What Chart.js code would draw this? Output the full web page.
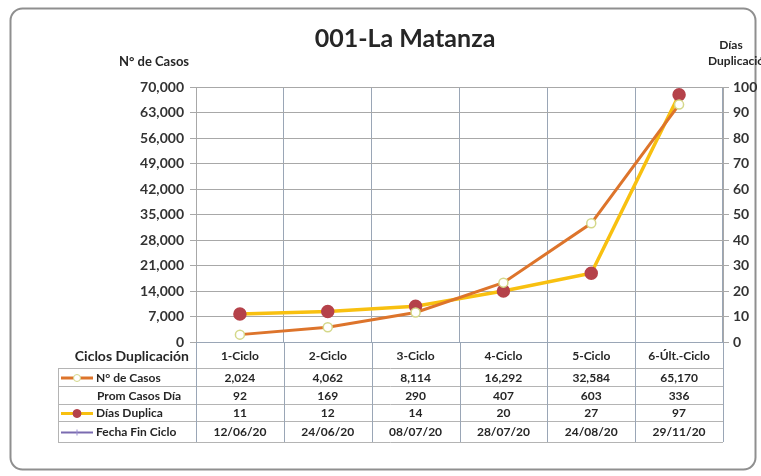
<!DOCTYPE html>
<html>
<head>
<meta charset="utf-8">
<script src="https://cdn.jsdelivr.net/npm/chart.js@4.4.1/dist/chart.umd.min.js"></script>
<style>
  body { margin: 0; background: #fff; }
  #wrap { width: 761px; height: 476px; position: relative; }
</style>
</head>
<body>
<div id="wrap"><canvas id="matanzaChart"></canvas></div>
<script>
// datos del grafico
const ciclos = ['1-Ciclo', '2-Ciclo', '3-Ciclo', '4-Ciclo', '5-Ciclo', '6-Últ.-Ciclo'];
const casos = [2024, 4062, 8114, 16292, 32584, 65170];
const promCasosDia = [92, 169, 290, 407, 603, 336];
const diasDuplica = [11, 12, 14, 20, 27, 97];
const fechaFinCiclo = ['12/06/20', '24/06/20', '08/07/20', '28/07/20', '24/08/20', '29/11/20'];

const FONT = 'Lato, "Open Sans", sans-serif';
const TXT = '#262626';

// dibuja marco, titulos y la tabla de datos debajo del grafico
const tablaPlugin = {
  id: 'tabla',
  beforeDraw(chart) {
    const ctx = chart.ctx;
    ctx.save();
    ctx.fillStyle = '#fff';
    ctx.fillRect(0, 0, chart.width, chart.height);
    ctx.beginPath();
    ctx.roundRect(10.5, 8.5, 745, 461, 12);
    ctx.strokeStyle = '#8f8f8f';
    ctx.lineWidth = 2;
    ctx.stroke();
    ctx.restore();
  },
  afterDraw(chart) {
    const ctx = chart.ctx;
    const area = chart.chartArea;
    const x = chart.scales.x;
    ctx.save();

    // titulos
    ctx.fillStyle = TXT;
    ctx.textAlign = 'center';
    ctx.textBaseline = 'middle';
    ctx.font = 'bold 25px ' + FONT;
    ctx.fillText('001-La Matanza', 405, 39);
    ctx.font = 'bold 13px ' + FONT;
    ctx.fillText('N° de Casos', 154, 62);
    ctx.font = 'bold 12px ' + FONT;
    ctx.fillText('Días', 731, 45);
    ctx.textAlign = 'left';
    ctx.fillText('Duplicación', 708, 61);

    // lineas de la tabla
    const rows = [area.bottom, 368, 386, 404, 421, 442];
    const left = 58;
    ctx.strokeStyle = '#b4b4b4';
    ctx.lineWidth = 1;
    for (let i = 1; i < rows.length; i++) {
      ctx.beginPath();
      ctx.moveTo(left, rows[i] + 0.5);
      ctx.lineTo(area.right, rows[i] + 0.5);
      ctx.stroke();
    }
    ctx.beginPath();
    ctx.moveTo(left + 0.5, rows[1]);
    ctx.lineTo(left + 0.5, rows[5]);
    ctx.stroke();
    ctx.strokeStyle = '#9aa6b6';
    const step = (area.right - area.left) / ciclos.length;
    for (let i = 0; i <= ciclos.length; i++) {
      const gx = Math.round(area.left + step * i) + 0.5;
      ctx.beginPath();
      ctx.moveTo(gx, area.bottom);
      ctx.lineTo(gx, rows[5]);
      ctx.stroke();
    }

    // textos de la tabla
    const mid = (a, b) => (rows[a] + rows[b]) / 2 + 1;
    ctx.fillStyle = TXT;
    ctx.textBaseline = 'middle';
    ctx.font = 'bold 14px ' + FONT;
    ctx.textAlign = 'right';
    ctx.fillText('Ciclos Duplicación', 189, 356);
    ctx.font = 'bold 12px ' + FONT;
    ctx.textAlign = 'left';
    ctx.fillText('N° de Casos', 96, mid(1, 2));
    ctx.fillText('Prom Casos Día', 97, mid(2, 3));
    ctx.fillText('Días Duplica', 96, mid(3, 4));
    ctx.fillText('Fecha Fin Ciclo', 96, mid(4, 5));

    ctx.textAlign = 'center';
    ciclos.forEach((c, i) => {
      const cx = x.getPixelForValue(i);
      ctx.fillText(c, cx, 356);
      ctx.fillText(casos[i].toLocaleString('en-US'), cx, mid(1, 2));
      ctx.fillText(String(promCasosDia[i]), cx, mid(2, 3));
      ctx.fillText(String(diasDuplica[i]), cx, mid(3, 4));
      ctx.fillText(fechaFinCiclo[i], cx, mid(4, 5));
    });

    // simbolos de leyenda
    const leyenda = (y, color, width, dot, dotBorder, r) => {
      ctx.strokeStyle = color;
      ctx.lineWidth = width;
      ctx.beginPath();
      ctx.moveTo(61, y);
      ctx.lineTo(93, y);
      ctx.stroke();
      if (dot) {
        ctx.beginPath();
        ctx.arc(77, y, r, 0, Math.PI * 2);
        ctx.fillStyle = dot;
        ctx.fill();
        ctx.strokeStyle = dotBorder;
        ctx.lineWidth = 1;
        ctx.stroke();
      }
    };
    leyenda(mid(1, 2), '#dd742b', 3, '#fff', '#d4d88a', 3.5);
    leyenda(mid(3, 4), '#f8c010', 3, '#b5424a', '#b5424a', 4);
    leyenda(mid(4, 5), '#7a6bb0', 2, null);
    ctx.strokeStyle = '#9a8ed0';
    ctx.lineWidth = 1;
    ctx.beginPath();
    ctx.moveTo(77, mid(4, 5) - 3);
    ctx.lineTo(77, mid(4, 5) + 3);
    ctx.stroke();

    ctx.restore();
  }
};

new Chart(document.getElementById('matanzaChart'), {
  type: 'line',
  data: {
    labels: ciclos,
    datasets: [
      {
        label: 'N° de Casos',
        data: casos,
        yAxisID: 'y',
        borderColor: '#dd742b',
        borderWidth: 3,
        pointBackgroundColor: '#fff',
        pointBorderColor: '#d4d88a',
        pointBorderWidth: 1.5,
        pointRadius: 4.5,
        tension: 0,
        order: 1
      },
      {
        label: 'Días Duplica',
        data: diasDuplica,
        yAxisID: 'y1',
        borderColor: '#f8c010',
        borderWidth: 3.5,
        pointBackgroundColor: '#b5424a',
        pointBorderColor: '#b5424a',
        pointRadius: 5,
        tension: 0,
        order: 2
      }
    ]
  },
  options: {
    responsive: true,
    maintainAspectRatio: false,
    animation: false,
    layout: { padding: { top: 87, bottom: 134, left: 0, right: 0 } },
    plugins: {
      legend: { display: false },
      title: { display: false },
      tooltip: { enabled: false }
    },
    scales: {
      x: {
        offset: true,
        grid: { offset: true, color: '#9aa6b6', drawTicks: false },
        border: { color: '#9aa6b6' },
        ticks: { display: false },
        afterFit(scale) { scale.height = 0; }
      },
      y: {
        display: true,
        position: 'left',
        min: 0,
        max: 70000,
        ticks: {
          stepSize: 7000,
          padding: 6,
          color: '#333',
          font: { family: FONT, size: 14, weight: 'bold' },
          callback: v => v.toLocaleString('en-US')
        },
        grid: {
          display: true,
          drawOnChartArea: true,
          drawTicks: true,
          color: '#a8a8a8',
          lineWidth: 1,
          tickLength: 6
        },
        border: { display: true, color: '#a8a8a8' },
        afterFit(scale) { scale.width = 196; }
      },
      y1: {
        display: true,
        position: 'right',
        min: 0,
        max: 100,
        ticks: {
          stepSize: 10,
          padding: 4,
          color: '#333',
          font: { family: FONT, size: 14, weight: 'bold' }
        },
        grid: { display: true, drawOnChartArea: false, drawTicks: true, color: '#a8a8a8', lineWidth: 1, tickLength: 6 },
        border: { display: true, color: '#a8a8a8' },
        afterFit(scale) { scale.width = 38; }
      }
    }
  },
  plugins: [tablaPlugin]
});
</script>
</body>
</html>
